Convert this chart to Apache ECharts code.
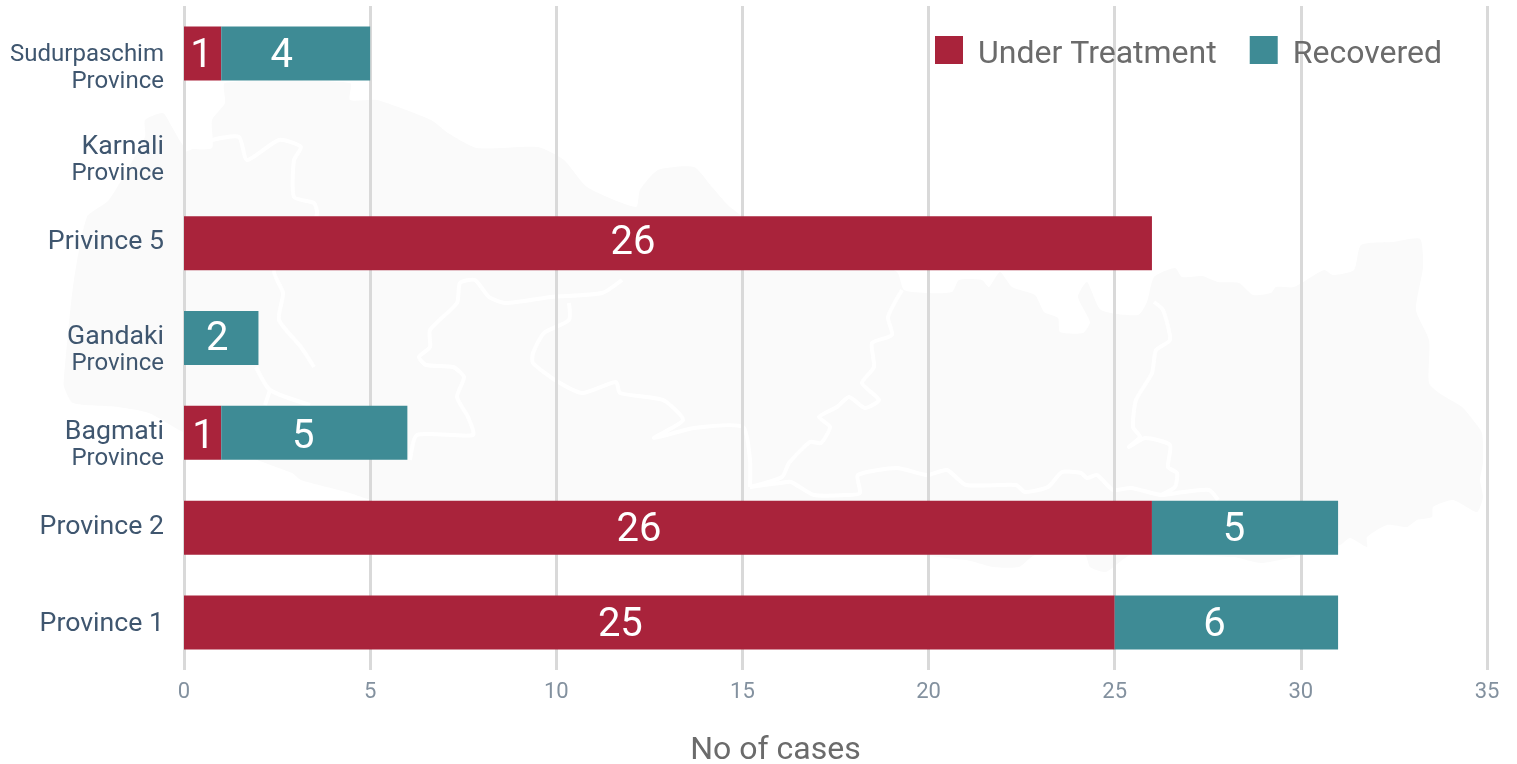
<!DOCTYPE html>
<html><head><meta charset="utf-8">
<style>html,body{margin:0;padding:0;background:#fff}#c{width:1517px;height:764px}</style>
<script src="https://cdn.jsdelivr.net/npm/echarts@6/dist/echarts.min.js"></script>
</head><body><div id="c"></div>
<script>
const provinceTop = ['Province 1','Province 2','Bagmati','Gandaki','Privince 5','Karnali','Sudurpaschim'];
const provinceSub = ['','','Province','Province','','Province','Province'];
const underTreatment = [25,26,1,0,26,0,1];
const recovered = [6,5,5,2,0,0,4];
const shiftUnder = [-29,-29,1,0,-35,0,-1];
const shiftRecovered = [-12,-11,-11,-4,0,0,-14];
const shiftRow = [3,3,5,2,1,0,4];
const categories = provinceTop.map((t,i)=>provinceSub[i]?t+'\n'+provinceSub[i]:t);

// faint decorative backdrop (map of Nepal), not data
const mapOutline = [[225,83],[350,83],[350,100],[377,100],[431,120],[448,133],[477,148],[538,147],[564,160],[587,187],[636,207],[640,190],[658,170],[694,167],[712,187],[730,207],[780,240],[850,250],[897,272],[904,290],[928,293],[952,292],[959,280],[982,280],[989,287],[1000,272],[1012,287],[1035,295],[1044,312],[1058,318],[1060,332],[1083,333],[1090,322],[1078,297],[1087,282],[1101,310],[1138,315],[1147,302],[1154,277],[1175,268],[1182,277],[1202,276],[1218,282],[1239,283],[1253,295],[1271,293],[1276,287],[1294,287],[1324,270],[1333,275],[1354,270],[1361,245],[1393,242],[1420,239],[1423,267],[1416,310],[1429,340],[1429,383],[1439,393],[1462,407],[1473,420],[1482,433],[1483,463],[1480,480],[1483,497],[1477,512],[1453,500],[1433,507],[1432,517],[1417,520],[1407,527],[1387,525],[1367,537],[1367,547],[1350,538],[1340,545],[1263,563],[1233,557],[1131,555],[1106,572],[1090,567],[1085,555],[1035,555],[1019,567],[993,567],[966,560],[372,500],[350,493],[301,480],[292,473],[185,433],[149,413],[118,407],[73,403],[64,387],[64,377],[73,287],[87,217],[109,200],[145,137],[145,120],[163,113],[172,127],[185,147],[212,148],[212,120],[225,103]];
const mapLines = [
 [[185,150],[212,140],[239,137],[247,160],[279,140],[301,147],[294,160],[294,197],[314,203],[317,213],[310,240],[274,270],[283,293],[279,320],[301,347],[314,367]],
 [[256,367],[270,390],[310,405]],[[270,390],[265,405]],
 [[622,280],[602,293],[551,297],[506,303],[489,297],[475,280],[460,283],[457,303],[430,330],[430,347],[419,357],[426,365],[453,367],[464,377],[457,397],[468,417],[473,435],[417,435],[410,460]],
 [[569,303],[569,320],[544,333],[533,353],[533,363],[555,380],[582,393],[616,382],[620,393],[663,400],[683,420],[654,438],[694,428],[743,427],[750,460],[750,487]],
 [[902,290],[888,317],[892,335],[872,343],[874,367],[862,383],[879,400],[865,408],[849,397],[837,407],[819,417],[830,427],[821,443],[810,442],[789,463],[782,477],[750,487]],
 [[1154,302],[1163,310],[1170,340],[1156,350],[1152,373],[1136,400],[1133,427],[1140,437],[1129,447],[1145,438],[1170,445],[1168,467],[1177,473],[1175,487],[1161,495]],
 [[750,487],[780,483],[791,482],[814,495],[849,495],[860,493],[858,475],[897,468],[927,475],[947,470],[966,485],[1016,485],[1025,492],[1048,487],[1062,472],[1081,473],[1087,478],[1097,475],[1113,490],[1131,488],[1161,495],[1177,493],[1209,490],[1218,500]]
];

const chart = echarts.init(document.getElementById('c'),null,{renderer:'canvas'});
const ff='Roboto';
const catColor='#3f566f';
function series(name,vals,shifts,color){
  return {name,type:'bar',stack:'t',barWidth:54,silent:true,z:3,
    itemStyle:{color},
    data:vals.map((v,i)=>({value:v,label:{show:v>0,offset:[shifts[i],shiftRow[i]]}})),
    label:{position:'inside',color:'#fff',fontFamily:ff,fontSize:40,formatter:'{c}'}};
}
const big={fontFamily:ff,fontSize:26.67,color:catColor,align:'right'};
const sub={fontFamily:ff,fontSize:24,color:catColor,align:'right'};
chart.setOption({
  animation:false,
  backgroundColor:'#fff',
  textStyle:{fontFamily:ff},
  graphic:{elements:[
    {type:'polygon',z:-10,silent:true,shape:{points:mapOutline,smooth:0.2},style:{fill:'#fafafa'}}
  ].concat(mapLines.map(l=>({type:'polyline',z:-9,silent:true,shape:{points:l,smooth:0.2},
    style:{stroke:'#fff',lineWidth:4,fill:null}})))},
  grid:{left:184,right:30,top:6,height:664,outerBoundsMode:'none'},
  legend:{right:70,top:31,itemWidth:28,itemHeight:28,itemGap:33,icon:'rect',
    formatter:n=>'{n|'+n+'}',
    textStyle:{fontFamily:ff,fontSize:32,color:'#6b6b6b',
      rich:{n:{fontFamily:ff,fontSize:32,color:'#6b6b6b',padding:[10,0,0,10]}}},
    data:['Under Treatment','Recovered']},
  xAxis:{type:'value',min:0,max:35,interval:5,
    axisLine:{show:false},axisTick:{show:false},
    splitLine:{show:true,lineStyle:{color:'#d9d9d9',width:3}},
    axisLabel:{color:'#83919f',fontSize:22,fontFamily:ff,margin:11},
    name:'No of cases',nameLocation:'middle',nameGap:65,
    nameTextStyle:{fontFamily:ff,fontSize:32,color:'#6b6b6b',padding:[0,120,0,0]}},
  yAxis:{type:'category',data:categories,
    axisLine:{show:false},axisTick:{show:false},
    axisLabel:{margin:20,align:'right',fontFamily:ff,fontSize:26.67,color:catColor,
      formatter:(v)=>{const p=v.split('\n');
        if(p.length===1)return (p[0]==='Province 1'?'{d|':'{c|')+p[0]+'}';
        if(p[0].length>8)return '{e|  }\n{s|'+p[0]+'}\n{b|'+p[1]+'}';
        return '{f|  }\n{a|'+p[0]+'}\n{b|'+p[1]+'}';},
      rich:{e:{fontSize:10,lineHeight:31},f:{fontSize:10,lineHeight:25},
            a:{...big,lineHeight:27},s:{...sub,lineHeight:27},b:{...sub,lineHeight:27},
            c:{...big,padding:[0,0,1,0]},d:{...big,padding:[3,0,0,0]}}}},
  series:[series('Under Treatment',underTreatment,shiftUnder,'#a9233b'),
          series('Recovered',recovered,shiftRecovered,'#3e8b95')]
});
</script></body></html>
